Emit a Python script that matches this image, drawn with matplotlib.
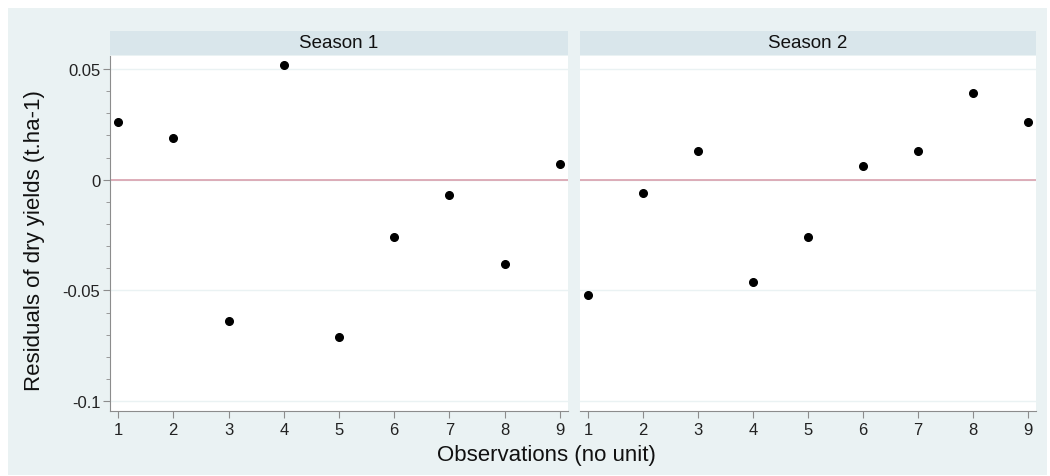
import numpy as np
import matplotlib
matplotlib.use('Agg')
import matplotlib.pyplot as plt
from matplotlib.patches import Rectangle
from matplotlib.ticker import FixedLocator, MultipleLocator

plt.rcParams['font.family'] = ['Liberation Sans', 'DejaVu Sans']

obs = [1, 2, 3, 4, 5, 6, 7, 8, 9]
season1 = [0.026, 0.019, -0.064, 0.052, -0.071, -0.026, -0.007, -0.038, 0.007]
season2 = [-0.052, -0.006, 0.013, -0.046, -0.026, 0.006, 0.013, 0.039, 0.026]
panel_titles = ['Season 1', 'Season 2']
yticks = [0.05, 0, -0.05, -0.1]
ytick_labels = ['0.05', '0', '-0.05', '-0.1']

bg = '#eaf2f3'
strip = '#d9e6eb'
axis_col = '#8c8c8c'

fig = plt.figure(figsize=(10.5, 4.77), dpi=100)
fig.patch.set_facecolor('white')
fig.add_artist(Rectangle((8 / 1050, 1 - 476 / 477), 1039 / 1050, 467 / 477,
                         transform=fig.transFigure, facecolor=bg,
                         edgecolor='none', zorder=-10))

bottom = 1 - 412 / 477
height = 355 / 477
ax1 = fig.add_axes([110 / 1050, bottom, 458 / 1050, height])
ax2 = fig.add_axes([580 / 1050, bottom, 456 / 1050, height])

for i, (ax, vals) in enumerate([(ax1, season1), (ax2, season2)]):
    ax.set_facecolor('white')
    ax.set_xlim(0.855, 9.145)
    ax.set_ylim(-0.1045, 0.0559)
    for y in yticks:
        ax.axhline(y, color='#eaf2f3', lw=1, zorder=1)
    ax.axhline(0, color='#d9a0ad', lw=1.2, zorder=2)
    ax.plot(obs, vals, 'o', color='black', markersize=5.5, zorder=3)

    for s in ['top', 'right']:
        ax.spines[s].set_visible(False)
    ax.spines['bottom'].set_color(axis_col)
    ax.spines['left'].set_color(axis_col)
    ax.spines['left'].set_visible(i == 0)

    ax.set_xticks(obs)
    ax.tick_params(axis='x', length=5, color=axis_col, labelsize=12,
                   labelcolor='#222222', pad=3)
    if i == 0:
        ax.yaxis.set_major_locator(FixedLocator(yticks))
        ax.set_yticklabels(ytick_labels)
        ax.yaxis.set_minor_locator(MultipleLocator(0.01))
        ax.tick_params(axis='y', which='major', length=5, color=axis_col,
                       labelsize=12, labelcolor='#222222', pad=2)
        ax.tick_params(axis='y', which='minor', length=3, color=axis_col)
    else:
        ax.set_yticks([])

    ax.add_patch(Rectangle((0, 1.003), 1, 24 / 355, transform=ax.transAxes,
                           facecolor=strip, edgecolor='none', clip_on=False))
    ax.text(0.5, 1.003 + 12 / 355, panel_titles[i], transform=ax.transAxes,
            ha='center', va='center', fontsize=13.5, color='#111111')

fig.text(546 / 1050, 1 - 456 / 477, 'Observations (no unit)', ha='center',
         va='center', fontsize=16, color='#111111')
fig.text(35 / 1050, 1 - 241 / 477, 'Residuals of dry yields (t.ha-1)',
         ha='center', va='center', rotation=90, fontsize=16, color='#111111')

fig.savefig('out.png', dpi=100)
